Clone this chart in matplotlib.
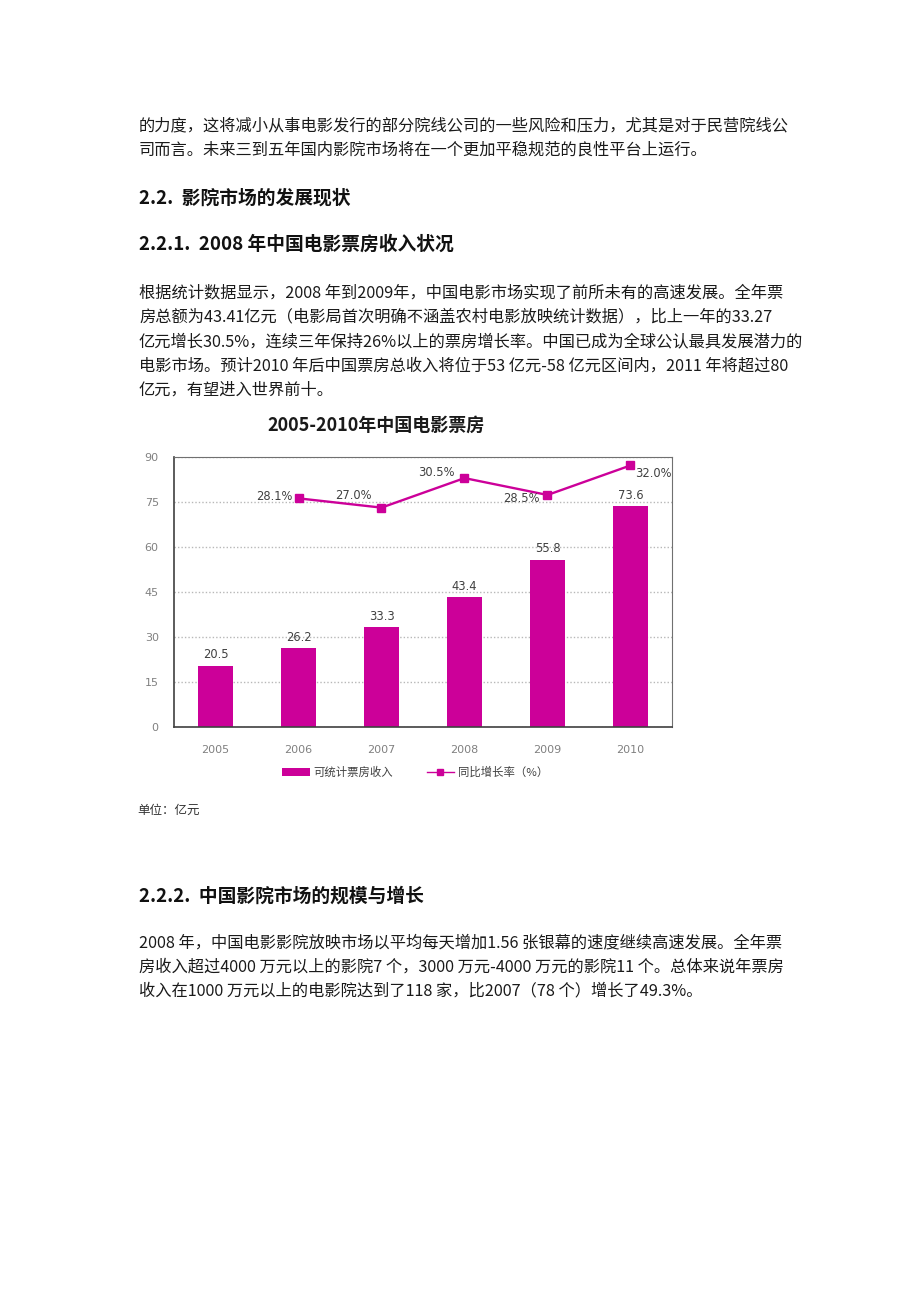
import matplotlib
matplotlib.use('Agg')
import matplotlib.pyplot as plt
from matplotlib.patches import Patch
from matplotlib.lines import Line2D

plt.rcParams['font.family'] = ['Noto Sans CJK SC', 'DejaVu Sans']

W, H = 920, 1302

# chart data
years = ['2005', '2006', '2007', '2008', '2009', '2010']
box_office = [20.5, 26.2, 33.3, 43.4, 55.8, 73.6]
growth_years = ['2006', '2007', '2008', '2009', '2010']
growth_rate = [28.1, 27.0, 30.5, 28.5, 32.0]
yticks = [0, 15, 30, 45, 60, 75, 90]
legend_labels = ['可统计票房收入', '同比增长率（%）']

# page text
para_top = ['的力度，这将减小从事电影发行的部分院线公司的一些风险和压力，尤其是对于民营院线公',
            '司而言。未来三到五年国内影院市场将在一个更加平稳规范的良性平台上运行。']
head_22 = '2.2.  影院市场的发展现状'
head_221 = '2.2.1.  2008 年中国电影票房收入状况'
para_221 = ['根据统计数据显示，2008 年到2009年，中国电影市场实现了前所未有的高速发展。全年票',
            '房总额为43.41亿元（电影局首次明确不涵盖农村电影放映统计数据），比上一年的33.27',
            '亿元增长30.5%，连续三年保持26%以上的票房增长率。中国已成为全球公认最具发展潜力的',
            '电影市场。预计2010 年后中国票房总收入将位于53 亿元-58 亿元区间内，2011 年将超过80',
            '亿元，有望进入世界前十。']
chart_title = '2005-2010年中国电影票房'
unit_note = '单位：亿元'
head_222 = '2.2.2.  中国影院市场的规模与增长'
para_222 = ['2008 年，中国电影影院放映市场以平均每天增加1.56 张银幕的速度继续高速发展。全年票',
            '房收入超过4000 万元以上的影院7 个，3000 万元-4000 万元的影院11 个。总体来说年票房',
            '收入在1000 万元以上的电影院达到了118 家，比2007（78 个）增长了49.3%。']

MAG = '#CC0099'

fig = plt.figure(figsize=(W / 100, H / 100), dpi=100)
fig.patch.set_facecolor('white')


def put(x, y, s, **kw):
    fig.text(x / W, 1 - y / H, s, va='center', ha=kw.pop('ha', 'left'), **kw)


body = dict(fontsize=11.7, color='#1a1a1a')
for i, s in enumerate(para_top):
    put(139, 126 + i * 24.5, s, **body)
put(139, 198, head_22, fontsize=13.5, fontweight='bold', color='#111111')
put(139, 244, head_221, fontsize=13.5, fontweight='bold', color='#111111')
for i, s in enumerate(para_221):
    put(139, 293 + i * 24.2, s, **body)
put(376, 425, chart_title, fontsize=13, fontweight='bold', color='#1a1a1a', ha='center')
put(137, 810, unit_note, fontsize=9, color='#333333')
put(139, 896, head_222, fontsize=13.5, fontweight='bold', color='#111111')
for i, s in enumerate(para_222):
    put(139, 943 + i * 24.2, s, **body)

# chart
ax = fig.add_axes([174 / W, 1 - 727 / H, (672 - 174) / W, (727 - 457) / H])
x = list(range(len(years)))
ax.bar(x, box_office, width=0.41, color=MAG, zorder=2)
ax.set_xlim(-0.5, len(years) - 0.5)
ax.set_ylim(0, 90)
ax.set_yticks(yticks)
ax.set_xticks(x)
ax.set_xticklabels(years)
ax.tick_params(length=0, labelsize=8, labelcolor='#808080')
for lab in ax.get_xticklabels() + ax.get_yticklabels():
    lab.set_family('DejaVu Sans')
ax.tick_params(axis='y', pad=11)
ax.tick_params(axis='x', pad=13)
ax.yaxis.grid(True, linestyle=(0, (1, 1.5)), color='#b8b8b8', lw=1)
ax.set_axisbelow(True)
for side in ['left', 'bottom']:
    ax.spines[side].set_color('#404040')
    ax.spines[side].set_linewidth(1.2)
for side in ['top', 'right']:
    ax.spines[side].set_color('#707070')
    ax.spines[side].set_linewidth(0.8)
for xi, v in zip(x, box_office):
    ax.annotate(f'{v:.1f}', (xi, v), xytext=(0, 3), textcoords='offset points',
                ha='center', va='bottom', fontsize=8.3, color='#404040', family='DejaVu Sans')

ax2 = ax.twinx()
ax2.set_ylim(1, 33)
ax2.set_yticks([])
for sp in ax2.spines.values():
    sp.set_visible(False)
gx = [years.index(y) for y in growth_years]
ax2.plot(gx, growth_rate, color=MAG, lw=1.7, marker='s', markersize=5.5)
lab_off = [(-6, 2, 'right'), (-10, 12, 'right'), (-10, 6, 'right'), (-8, -4, 'right'), (5, -8, 'left')]
for xi, v, (dx, dy, ha) in zip(gx, growth_rate, lab_off):
    ax2.annotate(f'{v:.1f}%', (xi, v), xytext=(dx, dy), textcoords='offset pixels',
                 ha=ha, va='center', fontsize=8.3, color='#404040', family='DejaVu Sans')

handles = [Patch(facecolor=MAG, edgecolor='none'),
           Line2D([], [], color=MAG, lw=1, marker='s', markersize=4)]
leg = fig.legend(handles, legend_labels, ncol=2, loc='center',
                 bbox_to_anchor=(415 / W, 1 - 772 / H), frameon=False,
                 fontsize=8.2, handlelength=2.4, handletextpad=0.3, columnspacing=3.0)
for t in leg.get_texts():
    t.set_color('#404040')

fig.savefig('out.png', dpi=100, facecolor='white')
